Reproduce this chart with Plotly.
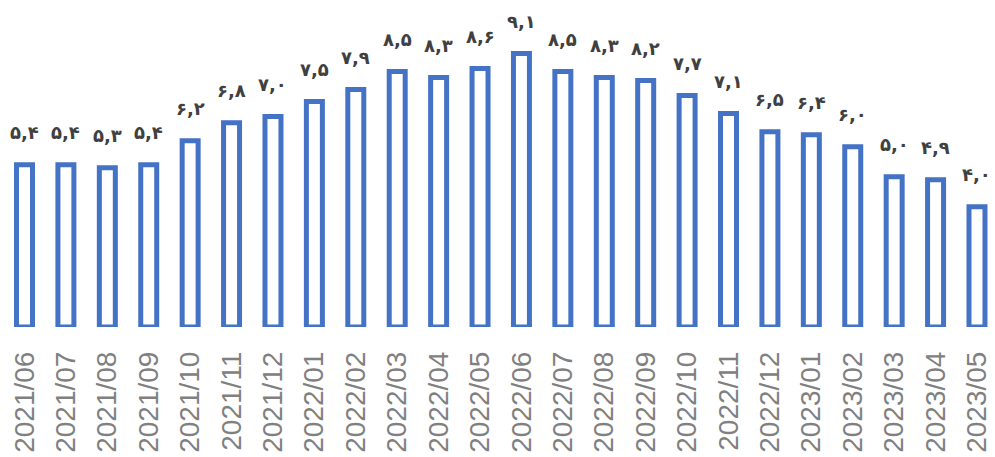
import plotly.graph_objects as go

months = ["2021/06", "2021/07", "2021/08", "2021/09", "2021/10", "2021/11", "2021/12",
          "2022/01", "2022/02", "2022/03", "2022/04", "2022/05", "2022/06", "2022/07",
          "2022/08", "2022/09", "2022/10", "2022/11", "2022/12", "2023/01", "2023/02",
          "2023/03", "2023/04", "2023/05"]
values = [5.4, 5.4, 5.3, 5.4, 6.2, 6.8, 7.0, 7.5, 7.9, 8.5, 8.3, 8.6, 9.1, 8.5,
          8.3, 8.2, 7.7, 7.1, 6.5, 6.4, 6.0, 5.0, 4.9, 4.0]

PERSIAN = str.maketrans("0123456789.", "۰۱۲۳۴۵۶۷۸۹,")
labels = [f"{v:.1f}".translate(PERSIAN) for v in values]

idx = list(range(len(months)))

fig = go.Figure()
fig.add_trace(go.Bar(
    x=idx, y=values, width=0.386,
    marker=dict(color="white", line=dict(color="#4472C4", width=5)),
    cliponaxis=False, hoverinfo="skip",
))

annotations = [
    dict(x=i, y=v, text=t, showarrow=False, yanchor="bottom", xanchor="center",
         yshift=20, font=dict(family="DejaVu Sans", size=18, color="#404040", weight="bold"))
    for i, v, t in zip(idx, values, labels)
]

fig.update_layout(
    width=995, height=457,
    margin=dict(l=0, r=0, t=0, b=130, autoexpand=False),
    paper_bgcolor="white", plot_bgcolor="white",
    showlegend=False,
    annotations=annotations,
    xaxis=dict(
        tickmode="array", tickvals=idx, ticktext=months,
        range=[-0.5916, 23.435], tickangle=-90, automargin=False,
        tickfont=dict(family="Liberation Sans", size=28, color="#808080"),
        showgrid=False, zeroline=False, showline=False, ticks="",
        ticklabelstandoff=18,
    ),
    yaxis=dict(range=[0, 10.88], visible=False, showgrid=False, zeroline=False,
               automargin=False),
)

fig.write_html("out.html", config={"displayModeBar": False},
               post_script="document.body.style.margin='0';document.body.style.overflow='hidden';")
